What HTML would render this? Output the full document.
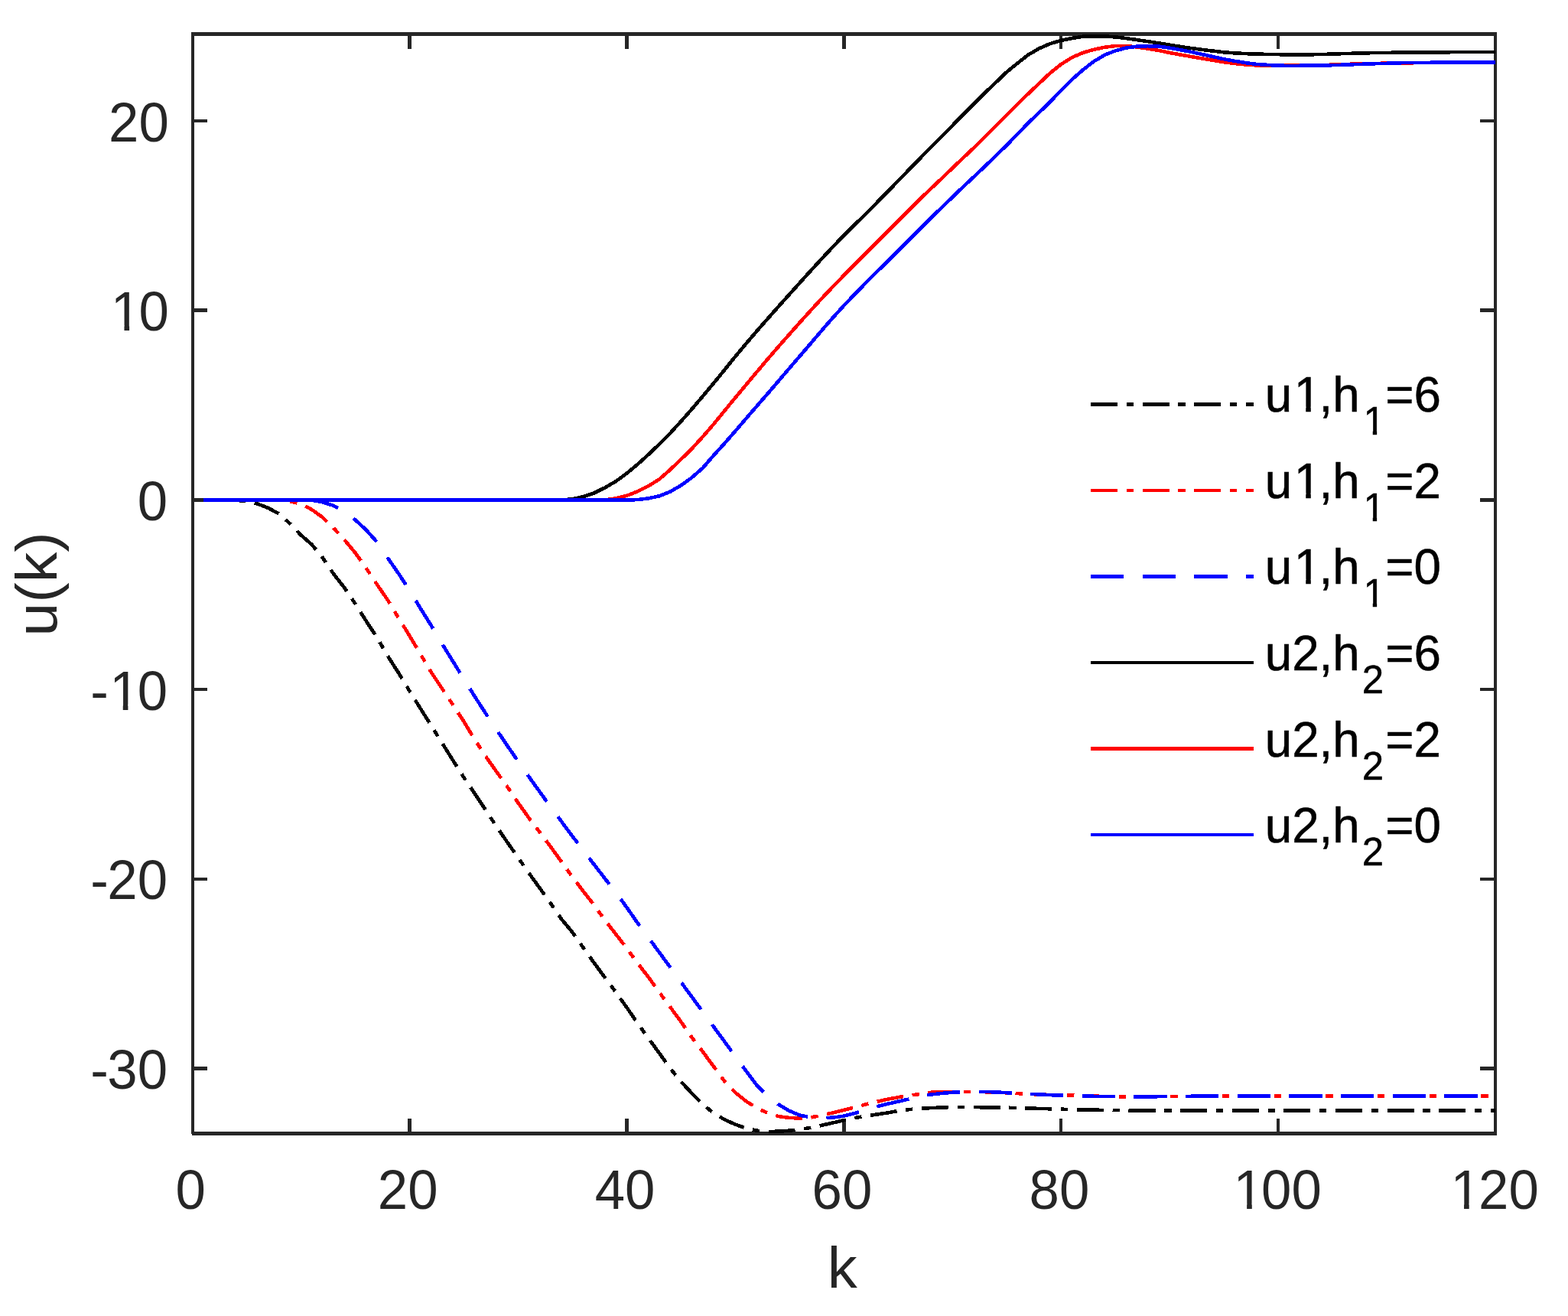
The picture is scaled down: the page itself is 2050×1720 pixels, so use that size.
<!DOCTYPE html>
<html lang="en"><head><meta charset="utf-8"><title>u(k) versus k</title>
<style>
html,body{margin:0;padding:0;background:#fff;}
body{width:2050px;height:1720px;overflow:hidden;}
svg{display:block;font-family:"Liberation Sans",Arial,Helvetica,sans-serif;}
.tl{fill:#262626;font-size:70.8px;}
.al{fill:#262626;font-size:77.9px;}
.lg{fill:#000;stroke:#000;stroke-width:0.5px;font-size:63.75px;}
.sub{font-size:51px;}
.c{fill:none;stroke-width:4.6;stroke-linejoin:round;shape-rendering:crispEdges;}
</style></head><body>
<svg width="2050" height="1720" viewBox="0 0 2050 1720">
<rect x="0" y="0" width="2050" height="1720" fill="#fff"/>
<g fill="#262626" stroke="none" shape-rendering="crispEdges">
<rect x="250" y="42" width="1707" height="5"/>
<rect x="251" y="1479" width="1706" height="5"/>
<rect x="250" y="42" width="4" height="1440"/>
<rect x="1953" y="42" width="4" height="1442"/>
<rect x="533" y="1462" width="5" height="17"/>
<rect x="533" y="47" width="5" height="17"/>
<rect x="817" y="1462" width="5" height="17"/>
<rect x="817" y="47" width="5" height="17"/>
<rect x="1101" y="1462" width="5" height="17"/>
<rect x="1101" y="47" width="5" height="17"/>
<rect x="1385" y="1462" width="4" height="17"/>
<rect x="1385" y="47" width="4" height="17"/>
<rect x="1669" y="1462" width="4" height="17"/>
<rect x="1669" y="47" width="4" height="17"/>
<rect x="254" y="156" width="17" height="4"/>
<rect x="1935" y="156" width="18" height="4"/>
<rect x="254" y="403" width="17" height="5"/>
<rect x="1935" y="403" width="18" height="5"/>
<rect x="254" y="651" width="17" height="5"/>
<rect x="1935" y="651" width="18" height="5"/>
<rect x="254" y="899" width="17" height="4"/>
<rect x="1935" y="899" width="18" height="4"/>
<rect x="254" y="1147" width="17" height="4"/>
<rect x="1935" y="1147" width="18" height="4"/>
<rect x="254" y="1394" width="17" height="5"/>
<rect x="1935" y="1394" width="18" height="5"/>
</g>
<g>
<text class="tl" transform="translate(229.61 1580) scale(1 1.027)">0</text>
<text class="tl" transform="translate(493.82 1580) scale(1 1.027)">20</text>
<text class="tl" transform="translate(777.72 1580) scale(1 1.027)">40</text>
<text class="tl" transform="translate(1061.62 1580) scale(1 1.027)">60</text>
<text class="tl" transform="translate(1345.52 1580) scale(1 1.027)">80</text>
<text class="tl" transform="translate(1609.74 1580) scale(1 1.027)" dx="2.8 -2.8 0">100</text>
<text class="tl" transform="translate(1893.64 1580) scale(1 1.027)" dx="2.8 -2.8 0">120</text>
<text class="tl" transform="translate(142.05 184.54) scale(1 1.027)">20</text>
<text class="tl" transform="translate(142.05 432.22) scale(1 1.027)" dx="2.8 -2.8">10</text>
<text class="tl" transform="translate(179.72 679.9) scale(1 1.027)">0</text>
<text class="tl" transform="translate(116.77 927.58) scale(1 1.027)" dx="1.5 1.3 -2.8">-10</text>
<text class="tl" transform="translate(116.77 1175.26) scale(1 1.027)" dx="1.5 -1.5 0">-20</text>
<text class="tl" transform="translate(116.77 1422.94) scale(1 1.027)" dx="1.5 -1.5 0">-30</text>
</g>
<text class="al" text-anchor="middle" transform="translate(1101.2 1682.9) scale(1 0.975)">k</text>
<text class="al" style="font-size:79.3px" text-anchor="middle" transform="translate(74 763.6) rotate(-90) scale(1 0.96)">u(k)</text>
<g>
<text class="lg" transform="translate(1653.7 538) scale(1 1.012)" dx="0 2.52 -2.52 0">u1,h<tspan class="sub" dx="4.6" dy="29.55">1</tspan><tspan dx="0.6" dy="-29.55">=6</tspan></text>
<text class="lg" transform="translate(1653.7 650.67) scale(1 1.012)" dx="0 2.52 -2.52 0">u1,h<tspan class="sub" dx="4.6" dy="29.55">1</tspan><tspan dx="0.6" dy="-29.55">=2</tspan></text>
<text class="lg" transform="translate(1653.7 763.34) scale(1 1.012)" dx="0 2.52 -2.52 0">u1,h<tspan class="sub" dx="4.6" dy="29.55">1</tspan><tspan dx="0.6" dy="-29.55">=0</tspan></text>
<text class="lg" transform="translate(1653.7 876.01) scale(1 1.012)">u2,h<tspan class="sub" dx="3.1" dy="29.55">2</tspan><tspan dx="2.1" dy="-29.55">=6</tspan></text>
<text class="lg" transform="translate(1653.7 988.68) scale(1 1.012)">u2,h<tspan class="sub" dx="3.1" dy="29.55">2</tspan><tspan dx="2.1" dy="-29.55">=2</tspan></text>
<text class="lg" transform="translate(1653.7 1101.35) scale(1 1.012)">u2,h<tspan class="sub" dx="3.1" dy="29.55">2</tspan><tspan dx="2.1" dy="-29.55">=0</tspan></text>
</g>
<g fill="#fff" stroke="none">
<rect x="1616.43" y="1573.17" width="13.71" height="8.23"/>
<rect x="1636.8" y="1573.17" width="13.16" height="8.23"/>
<rect x="1900.33" y="1573.17" width="13.71" height="8.23"/>
<rect x="1920.7" y="1573.17" width="13.16" height="8.23"/>
<rect x="148.74" y="425.39" width="13.71" height="8.23"/>
<rect x="169.11" y="425.39" width="13.16" height="8.23"/>
<rect x="147.04" y="920.75" width="13.71" height="8.23"/>
<rect x="167.41" y="920.75" width="13.16" height="8.23"/>
<rect x="1694.78" y="531.53" width="12.47" height="8.12"/>
<rect x="1713.79" y="531.53" width="11.98" height="8.12"/>
<rect x="1784.51" y="562.39" width="10.24" height="7.16"/>
<rect x="1800.16" y="562.39" width="9.84" height="7.16"/>
<rect x="1694.78" y="644.2" width="12.47" height="8.12"/>
<rect x="1713.79" y="644.2" width="11.98" height="8.12"/>
<rect x="1784.51" y="675.06" width="10.24" height="7.16"/>
<rect x="1800.16" y="675.06" width="9.84" height="7.16"/>
<rect x="1694.78" y="756.87" width="12.47" height="8.12"/>
<rect x="1713.79" y="756.87" width="11.98" height="8.12"/>
<rect x="1784.51" y="787.73" width="10.24" height="7.16"/>
<rect x="1800.16" y="787.73" width="9.84" height="7.16"/>
</g>
<g>
<polyline class="c" stroke="#000" stroke-dasharray="35 11.67 9.33 11.66" stroke-dashoffset="0.5" points="265.7,653.5 279.9,653.5 294.1,653.5 308.3,653.6 322.5,655.4 336.7,658.5 350.9,664 365.1,671.8 379.3,684.5 393.4,699.3 407.6,711.7 421.8,729 436,749.9 450.2,768.1 464.4,789.1 478.6,811.5 492.8,833.1 507,857.5 521.2,879.7 535.4,903.1 549.6,925.9 563.8,948.4 578,971 592.2,993.8 606.4,1016.2 620.6,1037 634.8,1058.5 649,1080 663.2,1100.7 677.4,1121.1 691.5,1141.1 705.7,1160.8 719.9,1180.7 734.1,1201.4 748.3,1218.4 762.5,1238.6 776.7,1258.5 790.9,1277.6 805.1,1296.7 819.3,1316.6 833.5,1337.2 847.7,1357.1 861.9,1376.3 876.1,1396.3 890.3,1413.6 904.5,1428.9 918.7,1443.2 932.9,1454.8 947.1,1463.1 961.2,1469.6 975.4,1474.5 989.6,1477.7 1003.8,1479 1018,1478.7 1032.2,1477.7 1046.4,1476 1060.6,1473.7 1074.8,1470.7 1089,1467.5 1103.2,1464.2 1117.4,1461.1 1131.6,1458.7 1145.8,1456.6 1160,1454.5 1174.2,1452 1188.4,1450.1 1202.6,1448.9 1216.8,1448.1 1231,1447.5 1245.2,1447 1259.3,1446.9 1273.5,1447.1 1287.7,1447.3 1301.9,1447.5 1316.1,1447.7 1330.3,1448.1 1344.5,1448.5 1358.7,1448.9 1372.9,1449.3 1387.1,1449.7 1401.3,1450.1 1415.5,1450.4 1429.7,1450.7 1443.9,1450.9 1458.1,1451.1 1472.3,1451.3 1486.5,1451.4 1500.7,1451.4 1514.9,1451.4 1529,1451.4 1543.2,1451.4 1557.4,1451.4 1571.6,1451.4 1585.8,1451.4 1600,1451.4 1614.2,1451.4 1628.4,1451.4 1642.6,1451.4 1656.8,1451.4 1671,1451.4 1685.2,1451.4 1699.4,1451.4 1713.6,1451.4 1727.8,1451.4 1742,1451.4 1756.2,1451.4 1770.4,1451.4 1784.6,1451.4 1798.8,1451.4 1813,1451.4 1827.1,1451.3 1841.3,1451.3 1855.5,1451.3 1869.7,1451.3 1883.9,1451.3 1898.1,1451.3 1912.3,1451.3 1926.5,1451.2 1940.7,1451.2 1954.9,1451.2"/>
<polyline class="c" stroke="#f00" stroke-dasharray="35 11.67 9.33 11.66" stroke-dashoffset="0.5" points="265.7,653.5 279.9,653.5 294.1,653.5 308.3,653.5 322.5,653.5 336.7,653.5 350.9,653.5 365.1,653.5 379.3,655.4 393.4,658.6 407.6,666 421.8,676.2 436,690 450.2,705.4 464.4,722.4 478.6,742.4 492.8,763.7 507,784.4 521.2,807.8 535.4,830.9 549.6,854.8 563.8,878.6 578,899.9 592.2,921.2 606.4,942.9 620.6,966.5 634.8,988.3 649,1008.4 663.2,1028.2 677.4,1049.2 691.5,1069.1 705.7,1087.8 719.9,1106.7 734.1,1126.3 748.3,1146 762.5,1164.8 776.7,1182.9 790.9,1202.7 805.1,1220.9 819.3,1239.2 833.5,1258.7 847.7,1277 861.9,1296.8 876.1,1316 890.3,1335.4 904.5,1356 918.7,1374.5 932.9,1393.7 947.1,1413.1 961.2,1427.8 975.4,1439.3 989.6,1448.2 1003.8,1454.9 1018,1459.1 1032.2,1461 1046.4,1461.5 1060.6,1460.4 1074.8,1457.7 1089,1454.3 1103.2,1450.8 1117.4,1447.2 1131.6,1443.6 1145.8,1440 1160,1436.8 1174.2,1434.2 1188.4,1431.9 1202.6,1429.9 1216.8,1427.8 1231,1426.8 1245.2,1426.8 1259.3,1426.8 1273.5,1426.9 1287.7,1427.2 1301.9,1427.6 1316.1,1428.3 1330.3,1429.1 1344.5,1429.9 1358.7,1430.5 1372.9,1431 1387.1,1431.3 1401.3,1431.6 1415.5,1432.1 1429.7,1432.6 1443.9,1433 1458.1,1433.2 1472.3,1433.2 1486.5,1433.3 1500.7,1433.3 1514.9,1433.2 1529,1433.1 1543.2,1432.9 1557.4,1432.8 1571.6,1432.6 1585.8,1432.6 1600,1432.5 1614.2,1432.5 1628.4,1432.5 1642.6,1432.5 1656.8,1432.4 1671,1432.4 1685.2,1432.4 1699.4,1432.4 1713.6,1432.4 1727.8,1432.4 1742,1432.4 1756.2,1432.4 1770.4,1432.4 1784.6,1432.4 1798.8,1432.4 1813,1432.4 1827.1,1432.4 1841.3,1432.4 1855.5,1432.4 1869.7,1432.4 1883.9,1432.4 1898.1,1432.4 1912.3,1432.4 1926.5,1432.4 1940.7,1432.4 1954.9,1432.4"/>
<polyline class="c" stroke="#00f" stroke-dasharray="43.2 24.46" stroke-dashoffset="0.5" points="265.7,653.5 279.9,653.5 294.1,653.5 308.3,653.5 322.5,653.5 336.7,653.5 350.9,653.5 365.1,653.5 379.3,653.5 393.4,653.5 407.6,653.7 421.8,656.2 436,660.9 450.2,668.1 464.4,679.4 478.6,692.5 492.8,708.3 507,729.4 521.2,749.8 535.4,771.6 549.6,794.9 563.8,817.7 578,841.5 592.2,864.5 606.4,887.4 620.6,910.2 634.8,932.1 649,953.5 663.2,974.5 677.4,995 691.5,1015.2 705.7,1035 719.9,1054.6 734.1,1073.8 748.3,1092.8 762.5,1111.4 776.7,1129.9 790.9,1148.3 805.1,1166.4 819.3,1185.8 833.5,1206.3 847.7,1225.3 861.9,1244.7 876.1,1264.1 890.3,1283.6 904.5,1302.9 918.7,1322.2 932.9,1341.8 947.1,1361.1 961.2,1380.5 975.4,1399.8 989.6,1418.6 1003.8,1433 1018,1443.7 1032.2,1452 1046.4,1457.9 1060.6,1460.2 1074.8,1461.1 1089,1460.7 1103.2,1458.6 1117.4,1455.1 1131.6,1450.9 1145.8,1446.4 1160,1442.9 1174.2,1439.7 1188.4,1436.5 1202.6,1433 1216.8,1430.6 1231,1429 1245.2,1427.8 1259.3,1427.2 1273.5,1426.8 1287.7,1426.9 1301.9,1427.4 1316.1,1428.2 1330.3,1428.9 1344.5,1429.7 1358.7,1430.4 1372.9,1431.1 1387.1,1431.7 1401.3,1432.1 1415.5,1432.5 1429.7,1432.8 1443.9,1433 1458.1,1433.2 1472.3,1433.2 1486.5,1433.3 1500.7,1433.3 1514.9,1433.2 1529,1433.1 1543.2,1432.9 1557.4,1432.8 1571.6,1432.6 1585.8,1432.6 1600,1432.5 1614.2,1432.5 1628.4,1432.5 1642.6,1432.5 1656.8,1432.4 1671,1432.4 1685.2,1432.4 1699.4,1432.4 1713.6,1432.4 1727.8,1432.4 1742,1432.4 1756.2,1432.4 1770.4,1432.4 1784.6,1432.4 1798.8,1432.4 1813,1432.4 1827.1,1432.4 1841.3,1432.4 1855.5,1432.4 1869.7,1432.4 1883.9,1432.4 1898.1,1432.4 1912.3,1432.4 1926.5,1432.4 1940.7,1432.4 1954.9,1432.4"/>
<polyline class="c" stroke="#000" points="265.7,653.5 279.9,653.5 294.1,653.5 308.3,653.5 322.5,653.5 336.7,653.5 350.9,653.5 365.1,653.5 379.3,653.5 393.4,653.5 407.6,653.5 421.8,653.5 436,653.5 450.2,653.5 464.4,653.5 478.6,653.5 492.8,653.5 507,653.5 521.2,653.5 535.4,653.5 549.6,653.5 563.8,653.5 578,653.5 592.2,653.5 606.4,653.5 620.6,653.5 634.8,653.5 649,653.5 663.2,653.5 677.4,653.5 691.5,653.5 705.7,653.5 719.9,653.5 734.1,653.5 748.3,652.3 762.5,649.2 776.7,644.4 790.9,637.4 805.1,629.1 819.3,618.8 833.5,607 847.7,594.1 861.9,580.6 876.1,566.3 890.3,550.8 904.5,534.7 918.7,518 932.9,501 947.1,483.7 961.2,466.1 975.4,449.1 989.6,432.6 1003.8,416.4 1018,400.4 1032.2,384.6 1046.4,368.8 1060.6,353.1 1074.8,337.7 1089,322.5 1103.2,307.8 1117.4,293.8 1131.6,279.8 1145.8,265.5 1160,251 1174.2,236.4 1188.4,221.8 1202.6,207.2 1216.8,192.7 1231,178.3 1245.2,164.1 1259.3,149.8 1273.5,135.7 1287.7,121.4 1301.9,107.8 1316.1,94.2 1330.3,82.6 1344.5,71.5 1358.7,63.3 1372.9,57.1 1387.1,52.9 1401.3,50 1415.5,47.8 1429.7,47.3 1443.9,47.4 1458.1,48.4 1472.3,50.1 1486.5,52.1 1500.7,54.2 1514.9,56.4 1529,58.7 1543.2,60.9 1557.4,63 1571.6,64.9 1585.8,66.6 1600,68.3 1614.2,69.4 1628.4,70.1 1642.6,70.6 1656.8,70.9 1671,71.2 1685.2,71.3 1699.4,71.4 1713.6,71.3 1727.8,71 1742,70.6 1756.2,70.1 1770.4,69.7 1784.6,69.3 1798.8,69.1 1813,68.9 1827.1,68.7 1841.3,68.6 1855.5,68.5 1869.7,68.4 1883.9,68.3 1898.1,68.2 1912.3,68.2 1926.5,68.1 1940.7,68.1 1954.9,68.1"/>
<polyline class="c" stroke="#f00" points="265.7,653.5 279.9,653.5 294.1,653.5 308.3,653.5 322.5,653.5 336.7,653.5 350.9,653.5 365.1,653.5 379.3,653.5 393.4,653.5 407.6,653.5 421.8,653.5 436,653.5 450.2,653.5 464.4,653.5 478.6,653.5 492.8,653.5 507,653.5 521.2,653.5 535.4,653.5 549.6,653.5 563.8,653.5 578,653.5 592.2,653.5 606.4,653.5 620.6,653.5 634.8,653.5 649,653.5 663.2,653.5 677.4,653.5 691.5,653.5 705.7,653.5 719.9,653.5 734.1,653.5 748.3,653.5 762.5,653.5 776.7,653.5 790.9,653.5 805.1,651.4 819.3,647.9 833.5,642.3 847.7,635.3 861.9,626.4 876.1,614 890.3,600.4 904.5,586.5 918.7,570.9 932.9,554.5 947.1,537.1 961.2,519.9 975.4,502.9 989.6,486 1003.8,469.2 1018,452.8 1032.2,436.7 1046.4,420.7 1060.6,405 1074.8,389.6 1089,374.6 1103.2,360 1117.4,345.6 1131.6,331.3 1145.8,317.1 1160,302.9 1174.2,288.7 1188.4,274.5 1202.6,260.4 1216.8,246.8 1231,233.4 1245.2,219.7 1259.3,206.3 1273.5,192.9 1287.7,179 1301.9,164.7 1316.1,150.5 1330.3,136.2 1344.5,122.3 1358.7,108.9 1372.9,95.5 1387.1,84.1 1401.3,75.3 1415.5,69 1429.7,64.9 1443.9,61.8 1458.1,60 1472.3,60 1486.5,61.5 1500.7,63.6 1514.9,66 1529,68.9 1543.2,71.5 1557.4,74 1571.6,76.5 1585.8,78.8 1600,81.2 1614.2,83 1628.4,84.4 1642.6,85.4 1656.8,85.6 1671,85.6 1685.2,85.6 1699.4,85.6 1713.6,85.5 1727.8,85.1 1742,84.7 1756.2,84.2 1770.4,83.6 1784.6,83.2 1798.8,82.9 1813,82.7 1827.1,82.5 1841.3,82.3 1855.5,82.1 1869.7,81.9 1883.9,81.8 1898.1,81.7 1912.3,81.6 1926.5,81.6 1940.7,81.5 1954.9,81.5"/>
<polyline class="c" stroke="#00f" points="265.7,653.5 279.9,653.5 294.1,653.5 308.3,653.5 322.5,653.5 336.7,653.5 350.9,653.5 365.1,653.5 379.3,653.5 393.4,653.5 407.6,653.5 421.8,653.5 436,653.5 450.2,653.5 464.4,653.5 478.6,653.5 492.8,653.5 507,653.5 521.2,653.5 535.4,653.5 549.6,653.5 563.8,653.5 578,653.5 592.2,653.5 606.4,653.5 620.6,653.5 634.8,653.5 649,653.5 663.2,653.5 677.4,653.5 691.5,653.5 705.7,653.5 719.9,653.5 734.1,653.5 748.3,653.5 762.5,653.5 776.7,653.5 790.9,653.5 805.1,653.5 819.3,653.5 833.5,653.1 847.7,651.4 861.9,648.3 876.1,642.7 890.3,634.5 904.5,624.2 918.7,611.7 932.9,595.3 947.1,579.7 961.2,563.6 975.4,547 989.6,530.6 1003.8,514.3 1018,497.8 1032.2,481.1 1046.4,464.6 1060.6,448.1 1074.8,431.4 1089,415.1 1103.2,399.5 1117.4,384.6 1131.6,370.1 1145.8,355.9 1160,341.9 1174.2,327.8 1188.4,313.6 1202.6,299.3 1216.8,285.2 1231,271.4 1245.2,257.7 1259.3,244.1 1273.5,230.8 1287.7,217.4 1301.9,203.8 1316.1,189.7 1330.3,175.4 1344.5,160.5 1358.7,147 1372.9,133.1 1387.1,118.3 1401.3,104.1 1415.5,91.6 1429.7,80.5 1443.9,72 1458.1,66.4 1472.3,62.6 1486.5,60.7 1500.7,60.2 1514.9,60.6 1529,62.6 1543.2,65.2 1557.4,67.9 1571.6,71 1585.8,74.1 1600,77.2 1614.2,79.8 1628.4,82.1 1642.6,83.9 1656.8,84.9 1671,85.7 1685.2,85.9 1699.4,85.8 1713.6,85.7 1727.8,85.5 1742,85.2 1756.2,84.7 1770.4,84.2 1784.6,83.7 1798.8,83.2 1813,82.8 1827.1,82.3 1841.3,82 1855.5,81.9 1869.7,81.8 1883.9,81.7 1898.1,81.6 1912.3,81.5 1926.5,81.4 1940.7,81.4 1954.9,81.4"/>
</g>
<g>
<line class="c" x1="1426" y1="528.5" x2="1639" y2="528.5" stroke="#000" stroke-dasharray="35 11.67 9.33 11.66"/>
<line class="c" x1="1426" y1="641" x2="1639" y2="641" stroke="#f00" stroke-dasharray="35 11.67 9.33 11.66"/>
<line class="c" x1="1426" y1="753.5" x2="1639" y2="753.5" stroke="#00f" stroke-dasharray="43.2 24.46"/>
<line class="c" x1="1426" y1="866" x2="1639" y2="866" stroke="#000"/>
<line class="c" x1="1426" y1="978.5" x2="1639" y2="978.5" stroke="#f00"/>
<line class="c" x1="1426" y1="1091" x2="1639" y2="1091" stroke="#00f"/>
</g>
</svg></body></html>
